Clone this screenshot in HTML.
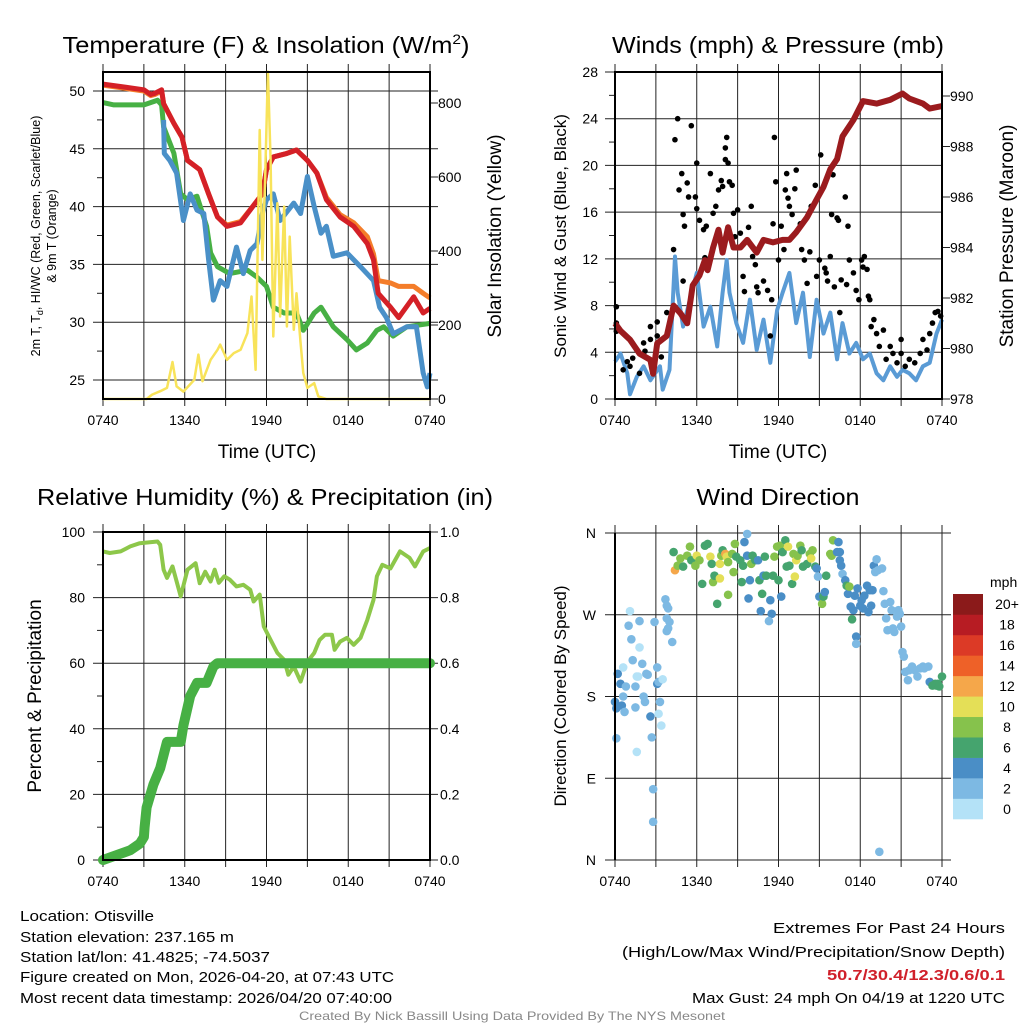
<!DOCTYPE html>
<html><head><meta charset="utf-8">
<style>
html,body{margin:0;padding:0;background:#fff;}
svg{display:block;font-family:"Liberation Sans",sans-serif;}
</style></head>
<body>
<svg id="chart" width="1024" height="1024" viewBox="0 0 1024 1024" xmlns="http://www.w3.org/2000/svg">
<rect x="0" y="0" width="1024" height="1024" fill="#fff"/>
<g id="layer"></g>
<g font-size="15" fill="#000">
<text x="20" y="921" textLength="134" lengthAdjust="spacingAndGlyphs">Location: Otisville</text>
<text x="20" y="942" textLength="214" lengthAdjust="spacingAndGlyphs">Station elevation: 237.165 m</text>
<text x="20" y="962" textLength="250" lengthAdjust="spacingAndGlyphs">Station lat/lon: 41.4825; -74.5037</text>
<text x="20" y="982" textLength="374" lengthAdjust="spacingAndGlyphs">Figure created on Mon, 2026-04-20, at 07:43 UTC</text>
<text x="20" y="1003" textLength="372" lengthAdjust="spacingAndGlyphs">Most recent data timestamp: 2026/04/20 07:40:00</text>
</g>
<g font-size="15" fill="#000" text-anchor="end">
<text x="1005" y="933" textLength="232" lengthAdjust="spacingAndGlyphs">Extremes For Past 24 Hours</text>
<text x="1005" y="957" textLength="383" lengthAdjust="spacingAndGlyphs">(High/Low/Max Wind/Precipitation/Snow Depth)</text>
<text x="1005" y="980" fill="#d0202a" font-weight="bold" textLength="178" lengthAdjust="spacingAndGlyphs">50.7/30.4/12.3/0.6/0.1</text>
<text x="1005" y="1003" textLength="313" lengthAdjust="spacingAndGlyphs">Max Gust: 24 mph On 04/19 at 1220 UTC</text>
</g>
<text x="512" y="1020" text-anchor="middle" font-size="12" fill="#888" textLength="426" lengthAdjust="spacingAndGlyphs">Created By Nick Bassill Using Data Provided By The NYS Mesonet</text>
</svg>
<script>
// ---------- DATA ----------
const timeTickLabels = ["0740","1340","1940","0140","0740"];
// Panel 1: temperature (F) and insolation
const tempTickLabels = [25,30,35,40,45,50];
const solarTickLabels = [0,200,400,600,800];
const airTempHours = [0,3.0,3.5,3.8,4.3,4.45,5.2,5.8,6.2,7.1,7.75,8.4,9.1,10.1,11.05,11.7,12.0,12.5,13.5,14.2,15.0,15.7,16.4,17.4,18.4,19.4,19.85,20.2,21.1,21.7,22.8,23.5,24];
const airTemp = [50.6,50.1,49.7,49.8,50.1,48.9,47.2,46.0,44.0,43.2,41.1,39.1,38.3,38.6,40.1,41.1,43.2,44.3,44.6,44.9,44.0,42.9,40.6,39.1,38.3,36.8,35.4,32.5,31.3,30.4,32.2,30.8,31.2];
const temp9mHours = [0,3.0,3.5,3.8,4.3,4.45,5.2,5.8,6.2,7.1,7.75,8.4,9.1,10.1,11.05,11.7,12.0,12.5,13.5,14.2,15.0,15.7,16.4,17.4,18.4,19.4,19.85,20.2,21.1,21.7,22.8,23.5,24];
const temp9m = [50.5,50.0,49.6,49.7,50.0,48.9,47.2,46.0,44.0,43.2,41.1,39.1,38.4,38.7,40.1,41.1,43.2,44.3,44.6,44.9,44.0,42.9,40.8,39.3,38.6,37.4,35.9,33.6,33.4,33.1,33.1,32.5,32.1];
const dewHours = [0,0.8,3.0,4.0,4.3,4.45,5.2,5.7,6.2,6.9,7.6,7.9,8.4,9.3,10.6,11.3,12.0,12.5,13.3,14.2,14.7,15.5,16.0,16.9,17.9,18.6,19.4,20.1,20.6,21.3,22.3,24];
const dewPoint = [49.0,48.8,48.8,49.2,48.8,46.9,44.6,41.1,40.6,40.9,38.3,36.0,34.8,34.2,34.5,33.9,33.1,31.3,30.8,30.8,29.3,30.8,31.3,29.6,28.5,27.6,28.2,29.3,29.6,28.8,29.6,29.9];
const chillHours = [4.45,4.5,4.9,5.4,5.9,6.4,6.9,7.4,7.75,8.1,8.6,9.1,9.8,10.3,10.8,11.3,11.7,12.0,12.5,13.0,14.0,14.5,15.0,15.5,16.0,16.4,16.9,17.9,18.9,19.85,20.3,20.8,21.3,22.3,23.0,23.5,23.8,24];
const windChill = [47.5,44.6,44.0,42.9,38.8,41.1,39.7,39.4,35.4,31.9,33.6,33.1,36.5,34.2,36.2,36.8,39.4,40.6,41.1,38.8,40.3,39.4,42.6,40.0,37.7,38.3,35.7,36.0,34.8,33.6,31.3,30.4,29.0,29.6,29.6,25.6,24.4,25.6];
const solarHours = [0,3.2,3.6,4.2,4.7,5.1,5.4,5.9,6.7,7.0,7.3,7.9,8.4,8.6,9.1,9.6,10.1,10.6,10.9,11.2,11.5,11.7,11.9,12.1,12.3,12.5,12.8,13.0,13.3,13.5,13.7,14.0,14.2,14.5,14.7,15.0,15.5,15.8,16.4,24];
const solar = [0,0,12,21,30,100,34,20,52,120,48,106,133,147,106,124,133,178,277,79,727,376,592,885,646,169,529,223,520,196,439,187,286,151,70,30,43,7,0,0];
// Panel 2: winds and pressure
const windTickLabels = [0,4,8,12,16,20,24,28];
const pressTickLabels = [978,980,982,984,986,988,990];
const pressHours = [0,0.4,1.1,1.8,2.6,2.8,3.1,3.8,4.3,4.8,5.3,5.7,6.2,6.6,6.8,7.2,7.6,7.9,8.3,8.7,9.2,9.7,10.4,10.9,11.6,12.3,12.8,13.3,14.1,14.8,15.3,15.8,16.3,16.7,17.5,18.2,19.2,20.2,21.1,21.6,22.6,23.1,24];
const pressure = [981.0,980.7,980.35,979.8,979.55,979.0,980.2,980.5,981.7,981.4,981.0,982.5,982.9,983.5,983.1,984.0,984.7,983.8,984.8,984.0,984.0,984.3,983.8,984.3,984.2,984.3,984.3,984.6,985.2,985.9,986.4,987.1,987.5,988.4,989.05,989.8,989.7,989.85,990.1,989.9,989.7,989.5,989.6];
const windHours = [0,0.4,0.9,1.1,1.6,2.1,2.6,3.3,3.5,4.0,4.4,4.6,5.0,5.5,6.0,6.5,7.0,7.5,7.9,8.2,8.4,8.9,9.4,9.9,10.4,10.9,11.4,11.9,12.3,12.8,13.3,13.8,14.3,14.8,15.3,15.8,16.3,16.7,17.2,17.7,18.2,18.7,19.2,19.7,20.2,20.7,21.1,21.6,22.1,22.6,23.1,23.6,24];
const windSpeed = [3.2,3.9,2.2,0.4,1.9,2.8,1.6,2.8,0.8,2.5,12.2,9.1,6.2,8.5,10.8,6.2,7.9,4.5,9.1,11.9,9.1,6.5,4.8,8.5,4.2,6.8,3.1,7.6,9.1,10.8,6.5,9.1,3.6,8.5,5.6,7.4,3.4,6.5,3.9,4.8,3.4,3.9,2.2,1.6,2.8,1.9,2.5,2.2,1.6,2.8,3.1,5.6,6.8];
const gustHours = [0.1,0.1,0.1,0.9,1.1,1.3,1.8,2.2,2.6,3.1,2.6,3.4,3.8,4.3,4.4,4.6,4.7,4.9,5.0,5.1,5.3,5.4,5.0,5.6,5.9,6.0,6.0,6.2,6.5,6.6,6.7,7.0,7.2,7.4,7.6,7.8,7.9,8.1,8.2,8.1,8.3,8.4,8.6,8.7,8.8,9.0,9.2,9.4,9.5,9.8,10.0,10.1,10.3,10.4,10.5,10.9,11.2,11.4,11.5,11.6,11.7,11.8,12.0,12.2,12.4,12.5,12.6,12.7,12.8,13.0,13.2,13.3,13.6,13.7,13.9,14.1,14.3,14.4,14.7,14.8,15.0,15.1,15.3,15.4,15.5,15.6,15.8,15.9,16.0,16.1,16.3,16.4,16.5,16.6,16.9,17.0,17.1,17.2,17.5,17.7,17.9,18.1,18.2,18.3,18.5,18.6,18.7,18.8,19.0,19.2,19.4,19.7,19.9,20.2,20.4,20.7,21.0,21.0,21.3,21.6,22.0,22.4,22.6,22.9,23.1,23.3,23.5,23.7,23.9,0.6,1.6,2.1,3.1];
const gustSpeed = [7.9,6.5,5.8,3.2,2.8,3.5,2.2,4.1,6.2,6.6,5.1,3.6,7.4,12.8,22.2,24.0,17.9,19.3,15.8,14.8,18.5,17.3,10.1,23.4,17.3,20.2,16.3,15.3,14.5,12.1,14.8,19.3,15.9,16.5,17.9,18.7,18.2,20.5,22.4,21.5,20.2,18.6,18.3,15.9,13.9,16.2,14.2,10.5,9.2,14.7,16.5,12.2,11.5,9.6,9.1,10.1,9.3,5.4,8.5,15.0,22.4,18.6,11.9,14.8,12.8,17.9,19.3,17.2,16.5,15.8,18.0,19.6,15.0,12.8,11.9,9.9,12.6,16.5,18.3,10.5,11.9,20.9,18.2,11.2,10.8,10.1,12.2,15.8,19.2,9.6,15.5,15.3,7.4,10.2,17.3,9.8,14.8,11.9,10.8,9.3,8.5,11.9,11.3,12.2,11.1,8.8,8.5,6.2,6.8,5.6,4.5,5.9,3.4,4.5,3.9,3.1,5.1,3.9,2.8,3.4,3.1,3.9,5.1,4.2,5.6,6.5,7.4,7.5,7.1,2.5,4.2,4.8,5.4];
// Panel 3: RH and precip
const rhTickLabels = [0,20,40,60,80,100];
const precipTickLabels = ["0.0","0.2","0.4","0.6","0.8","1.0"];
const rhHours = [0,0.5,1.3,2.0,2.7,4.0,4.2,4.45,4.7,5.1,5.7,6.2,6.8,7.1,7.5,7.9,8.2,8.5,8.9,9.3,9.8,10.3,10.8,11.05,11.5,11.8,12.3,12.8,13.3,13.6,14.0,14.5,15.0,15.5,15.9,16.3,16.8,17.0,17.4,17.9,18.4,18.9,19.4,19.85,20.1,20.5,21.1,21.8,22.5,22.9,23.5,24];
const rh = [94.1,93.6,94.1,95.6,96.6,97.1,96.1,88.5,86.0,89.5,80.4,88.5,90.5,84.4,87.9,84.9,88.5,84.5,86.5,85.5,83.4,83.9,82.4,78.8,80.9,71.2,67.1,63.1,61.0,56.5,59.0,54.4,60.5,63.1,67.1,68.7,68.7,64.1,66.6,67.7,65.6,67.7,73.2,79.3,86.5,90.0,88.9,94.1,92.1,89.5,94.1,95.1];
const precipHours = [0,2.0,2.7,3.0,3.05,3.2,3.7,4.2,4.7,5.7,5.9,6.4,6.9,7.6,8.1,8.4,24];
const precip = [0,0.03,0.05,0.07,0.10,0.16,0.23,0.28,0.36,0.36,0.41,0.50,0.54,0.54,0.59,0.60,0.60];
// Panel 4: wind direction
const dirTickLabels = ["N","E","S","W","N"];
const speedBinLabels = ["0","2","4","6","8","10","12","14","16","18","20+"];
const speedBinColors = ["#b4e2f7","#7db9e3","#4a8ec6","#45a46e","#86c24c","#e4df57","#f5a74a","#ee6128","#dc3a26","#b71c23","#8b1a1a"];
const dirHours = [0.0,0.1,0.2,0.4,0.5,0.6,0.7,0.8,1.0,1.1,1.2,1.3,1.5,1.5,1.6,1.7,1.8,1.8,2.0,2.1,2.2,2.3,2.4,2.6,2.7,2.8,2.8,2.9,3.1,3.1,3.2,3.3,3.2,3.4,3.5,3.7,3.8,3.9,3.8,4.0,3.9,3.8,4.2,0.1,0.6,1.6,
4.3,4.4,4.6,4.8,5.0,5.3,5.5,5.6,5.9,6.0,
6.2,6.4,6.6,6.8,7.0,7.1,7.2,7.3,7.5,7.7,
7.7,7.8,7.9,8.1,8.2,8.3,8.3,8.6,8.7,8.8,
8.9,9.2,9.3,9.4,9.5,9.7,9.7,9.8,9.9,10.0,
10.1,10.3,10.5,10.6,10.8,10.7,10.9,11.0,11.1,11.4,
11.5,11.3,11.6,11.7,11.9,12.0,12.2,12.1,12.3,12.5,
12.6,12.7,12.8,13.0,13.1,13.2,13.3,13.4,13.6,13.7,
13.8,14.1,14.3,14.4,14.5,14.7,14.8,14.9,15.0,15.2,
15.3,15.4,15.5,15.8,15.9,16.0,16.3,16.4,16.5,16.5,
16.6,16.7,16.9,17.0,17.1,17.2,17.3,17.4,17.5,17.6,
17.7,17.7,17.8,18.0,18.1,18.2,18.3,18.5,18.6,18.7,18.8,18.9,19.0,
19.1,19.2,19.3,19.6,19.7,19.8,19.9,20.0,20.2,20.3,20.4,20.5,20.7,20.8,20.9,21.0,21.1,21.2,21.3,21.5,21.6,21.8,22.0,22.2,22.4,22.6,22.7,23.0,
23.1,23.3,23.5,23.6,23.7,23.8,24.0,19.4];
const dirDegrees = [174,167,205,194,170,180,163,191,258,274,243,220,191,168,119,202,263,234,216,180,174,205,204,158,135,78,42,262,194,212,196,174,161,148,199,287,280,277,266,262,255,252,240,134,212,202,
339,319,324,332,323,335,345,330,324,335,
330,304,346,348,334,326,306,313,282,326,
310,335,341,337,334,328,292,337,317,348,
334,330,306,324,350,359,335,288,308,326,
335,330,330,308,293,274,313,334,313,286,
271,263,313,334,345,308,290,346,339,352,
323,345,324,304,337,312,330,335,346,341,
323,326,337,332,341,323,321,312,290,282,
290,295,313,337,335,352,339,350,330,339,
324,315,308,302,293,301,279,265,275,291,
246,238,299,280,286,277,291,302,273,297,280,297,324,
317,331,319,321,296,282,266,253,284,275,255,251,268,275,271,257,229,224,207,198,209,213,209,202,211,213,211,213,
196,192,194,192,194,191,202,9];
const dirSpeed = [5,5,5,5,5,3,3,3,3,1,3,3,3,3,1,1,3,1,3,3,3,3,3,5,3,3,3,3,5,3,3,3,1,1,1,3,3,3,3,3,3,3,3,3,1,1,
7,13,9,9,7,9,9,7,9,11,
9,7,7,7,11,7,9,7,7,11,
11,9,7,13,11,9,9,9,9,9,
7,7,7,7,5,3,5,5,5,9,
7,7,5,7,7,5,5,7,7,5,
5,3,7,9,9,7,5,9,7,7,
7,11,7,7,9,11,11,9,9,7,
7,7,9,11,9,7,5,3,5,9,
7,5,7,9,9,9,5,5,5,5,
5,3,5,7,5,9,5,7,5,5,
5,3,5,5,5,5,5,5,5,5,5,5,5,
3,3,3,3,3,3,3,3,3,3,3,3,3,3,3,3,3,3,3,3,3,3,3,3,3,3,3,3,
5,7,7,7,7,7,7,3];

// ---------- DRAW ----------
const NS = "http://www.w3.org/2000/svg";
const layer = document.getElementById("layer");
function mk(tag, attrs, parent) {
  const e = document.createElementNS(NS, tag);
  for (const k in attrs) e.setAttribute(k, attrs[k]);
  (parent || layer).appendChild(e);
  return e;
}
function txt(str, attrs, parent) { const t = mk("text", attrs, parent); t.textContent = str; return t; }
function lin(d0, d1, r0, r1) { return v => r0 + (v - d0) / (d1 - d0) * (r1 - r0); }
function pathFrom(xs, ys, sx, sy) {
  return xs.map((h, i) => (i ? "L" : "M") + sx(h).toFixed(1) + "," + sy(ys[i]).toFixed(1)).join("");
}

function frame(P, name, title) {
  const g = mk("g", {});
  
  
  const grid = mk("g", {stroke: "#222", "stroke-width": 1}, g);
  
  
  for (let k = 0; k <= 8; k++) {
    const x = P.x0 + k * (P.x1 - P.x0) / 8;
    mk("line", {x1: x, x2: x, y1: P.y0 - 8, y2: P.y1 + 7}, grid);
  }
  const tt = txt(title, {x: P.tx, y: P.ty, "text-anchor": "middle", "font-size": 23, textLength: P.tw, lengthAdjust: "spacingAndGlyphs"}, g);
  
  
  timeTickLabels.forEach((l, i) => {
    const t = txt(l, {x: P.x0 + i * (P.x1 - P.x0) / 4, y: P.y1 + 26, "text-anchor": "middle", "font-size": 14}, g);
    
    
  });
  return g;
}
function border(P, g) {
  mk("rect", {x: P.x0, y: P.y0, width: P.x1 - P.x0, height: P.y1 - P.y0, fill: "none", stroke: "#000", "stroke-width": 2}, g);
}

// Panel 1
(function () {
  const P = {x0: 103, x1: 430, y0: 72, y1: 399, tx: 266, ty: 53, tw: 407};
  const sx = lin(0, 24, P.x0, P.x1);
  const sy = lin(25, 50, 380, 91);
  const sw = lin(0, 800, 399, 103);
  const g = frame(P, "temperature-panel", "");
  const tt = g.querySelector("text");
  tt.textContent = "Temperature (F) & Insolation (W/m";
  const sup = mk("tspan", {dy: -9, "font-size": 14}, tt); sup.textContent = "2";
  const cl = mk("tspan", {dy: 9}, tt); cl.textContent = ")";
  tempTickLabels.forEach(v => {
    mk("line", {x1: P.x0 - 10, x2: P.x1 + 8, y1: sy(v), y2: sy(v), stroke: "#222"}, g);
    const t = txt(v, {x: 85, y: sy(v) + 5, "text-anchor": "end", "font-size": 14}, g);
    
    
    if (sy(v + 2.5) > P.y0) mk("line", {x1: P.x0 - 6, x2: P.x0, y1: sy(v + 2.5), y2: sy(v + 2.5), stroke: "#222"}, g);
  });
  solarTickLabels.forEach(v => {
    mk("line", {x1: P.x1, x2: P.x1 + 8, y1: sw(v), y2: sw(v), stroke: "#222"}, g);
    const t = txt(v, {x: 438, y: sw(v) + 5, "font-size": 14}, g);
    
    
  });
  const l9 = mk("path", {d: pathFrom(temp9mHours, temp9m, sx, sy), fill: "none", stroke: "#f47d2a", "stroke-width": 5, "stroke-linejoin": "round"}, g);
   
  const ld = mk("path", {d: pathFrom(dewHours, dewPoint, sx, sy), fill: "none", stroke: "#47b044", "stroke-width": 5, "stroke-linejoin": "round"}, g);
   
  const lc = mk("path", {d: pathFrom(chillHours, windChill, sx, sy), fill: "none", stroke: "#4a90c8", "stroke-width": 5, "stroke-linejoin": "round"}, g);
   
  const lt = mk("path", {d: pathFrom(airTempHours, airTemp, sx, sy), fill: "none", stroke: "#d42027", "stroke-width": 5, "stroke-linejoin": "round"}, g);
   
  const ls = mk("path", {d: pathFrom(solarHours, solar, sx, sw), fill: "none", stroke: "#f8e35a", "stroke-width": 2.5, "stroke-linejoin": "round"}, g);
   
  border(P, g);
  const xl = txt("Time (UTC)", {x: 267, y: 458, "text-anchor": "middle", "font-size": 19}, g);
   
  const yl = mk("text", {transform: "translate(40,236) rotate(-90)", "text-anchor": "middle", "font-size": 12.5}, g);
   
  yl.textContent = "2m T, T";
  const sb = mk("tspan", {dy: 3, "font-size": 9}, yl); sb.textContent = "d";
  const rest = mk("tspan", {dy: -3}, yl); rest.textContent = ", HI/WC (Red, Green, Scarlet/Blue)";
  const yl2 = txt("& 9m T (Orange)", {transform: "translate(56,236) rotate(-90)", "text-anchor": "middle", "font-size": 12.5}, g);
   
  const yr = txt("Solar Insolation (Yellow)", {transform: "translate(501,236) rotate(-90)", "text-anchor": "middle", "font-size": 19}, g);
   
})();

// Panel 2
(function () {
  const P = {x0: 615, x1: 942, y0: 72, y1: 399, tx: 778, ty: 53, tw: 332};
  const sx = lin(0, 24, P.x0, P.x1);
  const sy = lin(0, 28, 399, 72);
  const sp = lin(978, 990, 399, 96);
  const g = frame(P, "winds-panel", "Winds (mph) & Pressure (mb)");
  windTickLabels.forEach(v => {
    mk("line", {x1: P.x0 - 10, x2: P.x1, y1: sy(v), y2: sy(v), stroke: "#222"}, g);
    if (v < 28) mk("line", {x1: P.x0 - 6, x2: P.x0, y1: sy(v + 2), y2: sy(v + 2), stroke: "#222"}, g);
    const t = txt(v, {x: 598, y: sy(v) + 5, "text-anchor": "end", "font-size": 14}, g);
     
  });
  pressTickLabels.forEach(v => {
    mk("line", {x1: P.x1, x2: P.x1 + 8, y1: sp(v), y2: sp(v), stroke: "#222"}, g);
    const t = txt(v, {x: 950, y: sp(v) + 5, "font-size": 14}, g);
     
  });
  const lw = mk("path", {d: pathFrom(windHours, windSpeed, sx, sy), fill: "none", stroke: "#5a9bd5", "stroke-width": 4, "stroke-linejoin": "round"}, g);
   
  const gg = mk("g", {fill: "#000"}, g);
   
  gustHours.forEach((h, i) => {
    const c = mk("circle", {cx: sx(h), cy: sy(gustSpeed[i]), r: 2.8}, gg);
    
    
  });
  const lp = mk("path", {d: pathFrom(pressHours, pressure, sx, sp), fill: "none", stroke: "#9b1b1e", "stroke-width": 6, "stroke-linejoin": "round"}, g);
   
  border(P, g);
  const xl = txt("Time (UTC)", {x: 778, y: 458, "text-anchor": "middle", "font-size": 19}, g);
   
  const yl = txt("Sonic Wind & Gust (Blue, Black)", {transform: "translate(566,236) rotate(-90)", "text-anchor": "middle", "font-size": 17}, g);
   
  const yr = txt("Station Pressure (Maroon)", {transform: "translate(1013,236) rotate(-90)", "text-anchor": "middle", "font-size": 19}, g);
   
})();

// Panel 3
(function () {
  const P = {x0: 103, x1: 430, y0: 532, y1: 860, tx: 265, ty: 505, tw: 456};
  const sx = lin(0, 24, P.x0, P.x1);
  const sy = lin(0, 100, 860, 532);
  const sq = lin(0, 1, 860, 532);
  const g = frame(P, "humidity-panel", "Relative Humidity (%) & Precipitation (in)");
  rhTickLabels.forEach(v => {
    mk("line", {x1: P.x0 - 10, x2: P.x1 + 8, y1: sy(v), y2: sy(v), stroke: "#222"}, g);
    if (v < 100) mk("line", {x1: P.x0 - 6, x2: P.x0, y1: sy(v + 10), y2: sy(v + 10), stroke: "#222"}, g);
    const t = txt(v, {x: 85, y: sy(v) + 5, "text-anchor": "end", "font-size": 14}, g);
     
  });
  precipTickLabels.forEach(v => {
    const t = txt(v, {x: 440, y: sq(+v) + 5, "font-size": 14}, g);
     
  });
  const lr = mk("path", {d: pathFrom(rhHours, rh, sx, sy), fill: "none", stroke: "#8dc74a", "stroke-width": 4, "stroke-linejoin": "round"}, g);
   
  const lq = mk("path", {d: pathFrom(precipHours, precip, sx, sq), fill: "none", stroke: "#47b044", "stroke-width": 10, "stroke-linejoin": "round", "stroke-linecap": "round"}, g);
   
  border(P, g);
  const yl = txt("Percent & Precipitation", {transform: "translate(41,696) rotate(-90)", "text-anchor": "middle", "font-size": 19}, g);
   
})();

// Panel 4
(function () {
  const P = {x0: 615, x1: 942, y0: 533, y1: 860, tx: 778, ty: 505, tw: 163};
  const sx = lin(0, 24, P.x0, P.x1);
  const sy = lin(0, 360, 860, 533);
  const g = frame(P, "direction-panel", "Wind Direction");
  dirTickLabels.forEach((l, i) => {
    const y = sy(i * 90);
    mk("line", {x1: P.x0 - 10, x2: P.x1 + 9, y1: y, y2: y, stroke: "#222"}, g);
    const t = txt(l, {x: 596, y: y + 5, "text-anchor": "end", "font-size": 14}, g);
     
  });
  const gp = mk("g", {}, g);
   
  dirHours.forEach((h, i) => {
    const s = dirSpeed[i] === undefined ? 3 : dirSpeed[i];
    const bin = Math.min(10, Math.floor(s / 2));
    const c = mk("circle", {cx: sx(h), cy: sy(dirDegrees[i]), r: 4.3, fill: speedBinColors[bin]}, gp);
    
    
  });
  mk("line", {x1: P.x0, x2: P.x0, y1: P.y0, y2: P.y1, stroke: "#000", "stroke-width": 2}, g);
  const yl = txt("Direction (Colored By Speed)", {transform: "translate(566,696) rotate(-90)", "text-anchor": "middle", "font-size": 17}, g);
   
  const lg = mk("g", {}, g);
   
  const lt = txt("mph", {x: 990, y: 587, "font-size": 14}, lg);
   
  const bh = (819 - 594) / speedBinLabels.length;
  speedBinLabels.forEach((l, i) => {
    const y = 819 - (i + 1) * bh;
    const r = mk("rect", {x: 953, y: y, width: 30, height: bh + 0.3, fill: speedBinColors[i]}, lg);
     
    const t = txt(l, {x: 1007, y: y + bh / 2 + 5, "text-anchor": "middle", "font-size": 14}, lg);
     
  });
})();
</script>
</body></html>
